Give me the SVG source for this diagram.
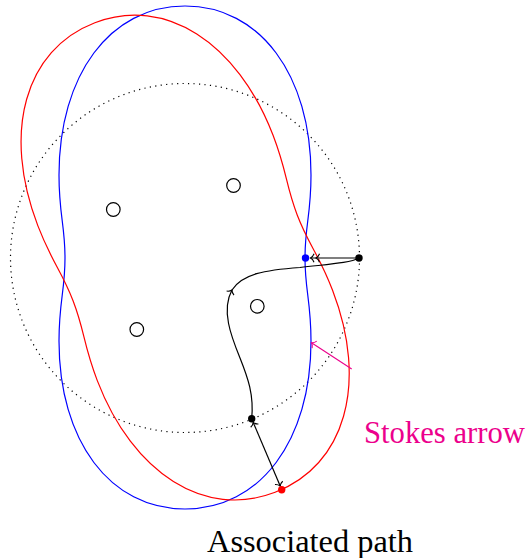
<svg xmlns="http://www.w3.org/2000/svg" width="528" height="558" viewBox="0 0 528 558">
<style>
.curve{fill:none;stroke-width:1.2}
.hole{fill:#fff;stroke:#000;stroke-width:1.2}
.conn{fill:none;stroke:#000;stroke-width:1.2}
.lbl{font-family:Liberation Serif, DejaVu Serif, Times New Roman, serif;font-size:31px}
</style>
<defs>
<path id="shape" d="M185,6 C260,6 311,75 311,175 C311,215 305,225 305,258 C305,291 311,301 311,341 C311,441 260,509 185,509 C110,509 59,441 59,341 C59,301 65,291 65,258 C65,225 59,215 59,175 C59,75 110,6 185,6 Z"/>
<marker id="to" markerUnits="userSpaceOnUse" markerWidth="12" markerHeight="12" refX="0" refY="0" viewBox="-6 -6 12 12" orient="auto-start-reverse" overflow="visible">
<path d="M-3.5,-4.2 C-2.6,-1.6 -0.8,-0.4 0,0 C-0.8,0.4 -2.6,1.6 -3.5,4.2" fill="none" stroke="#000" stroke-width="1.1"/>
</marker>
<marker id="to2" markerUnits="userSpaceOnUse" markerWidth="16" markerHeight="12" refX="0" refY="0" viewBox="-10 -6 16 12" orient="auto" overflow="visible">
<path d="M-3.5,-4.2 C-2.6,-1.6 -0.8,-0.4 0,0 C-0.8,0.4 -2.6,1.6 -3.5,4.2 M-9,-4.2 C-8.1,-1.6 -6.3,-0.4 -5.5,0 C-6.3,0.4 -8.1,1.6 -9,4.2" fill="none" stroke="#000" stroke-width="1.1"/>
</marker>
<marker id="tom" markerUnits="userSpaceOnUse" markerWidth="12" markerHeight="12" refX="0" refY="0" viewBox="-6 -6 12 12" orient="auto" overflow="visible">
<path d="M-3.5,-4.2 C-2.6,-1.6 -0.8,-0.4 0,0 C-0.8,0.4 -2.6,1.6 -3.5,4.2" fill="none" stroke="#EC008C" stroke-width="1.1"/>
</marker>
</defs>

<g id="circle-dotted">
<circle cx="185" cy="258" r="174.5" fill="none" stroke="#000" stroke-width="1.2" stroke-dasharray="1.2 4.3"/>
</g>
<g id="blue-contour">
<use href="#shape" class="curve" stroke="#0000ff"/>
</g>
<g id="red-contour">
<use href="#shape" class="curve" stroke="#ff0000" transform="rotate(-21 185 257.5)"/>
</g>
<g id="holes">
<circle class="hole" cx="113.3" cy="209.5" r="6.8"/>
<circle class="hole" cx="233.5" cy="185.5" r="6.8"/>
<circle class="hole" cx="136.8" cy="329.5" r="6.8"/>
<circle class="hole" cx="257.3" cy="306.3" r="6.8"/>
</g>

<g id="connectors">
<path class="conn" d="M251.7,418.7 C254,395 248,378 240,358 C231,336 221,310 232,290" marker-end="url(#to)"/>
<path class="conn" d="M232,290 C242,274 265,270 300,267.5 C330,264 350,263 359,258"/>
<line x1="359" y1="258" x2="310.5" y2="258" stroke="#555" stroke-width="1.6" marker-end="url(#to2)"/>
<line class="conn" x1="253.2" y1="422.4" x2="280.2" y2="486.1" marker-start="url(#to)" marker-end="url(#to)"/>
<line x1="351.7" y1="369" x2="311.5" y2="342.7" stroke="#EC008C" stroke-width="1.1" marker-end="url(#tom)"/>
</g>

<g id="points">
<circle cx="359" cy="258" r="3.7" fill="#000"/>
<circle cx="305.5" cy="258" r="3.7" fill="#0000ff"/>
<circle cx="251.7" cy="418.7" r="3.7" fill="#000"/>
<circle cx="281.7" cy="489.7" r="3.7" fill="#ff0000"/>
</g>

<g id="labels">
<text class="lbl" x="364" y="442.5" fill="#EC008C" textLength="161" lengthAdjust="spacingAndGlyphs">Stokes arrow</text>
<text class="lbl" x="207" y="551.5" fill="#000" textLength="206" lengthAdjust="spacingAndGlyphs">Associated path</text>
</g>
</svg>
